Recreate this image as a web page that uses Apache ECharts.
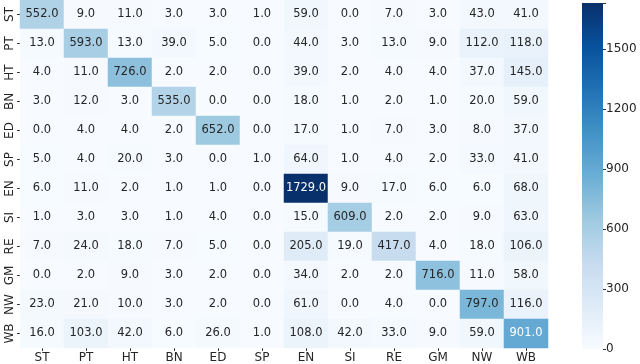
<!DOCTYPE html>
<html><head><meta charset="utf-8">
<script src="https://cdn.jsdelivr.net/npm/echarts@6/dist/echarts.min.js"></script>
<style>html,body{margin:0;padding:0;background:#fff}#c{width:640px;height:364px}</style>
</head><body><div id="c"></div>
<script>
const categories = ['ST','PT','HT','BN','ED','SP','EN','SI','RE','GM','NW','WB'];
const rowST = [552,9,11,3,3,1,59,0,7,3,43,41];
const rowPT = [13,593,13,39,5,0,44,3,13,9,112,118];
const rowHT = [4,11,726,2,2,0,39,2,4,4,37,145];
const rowBN = [3,12,3,535,0,0,18,1,2,1,20,59];
const rowED = [0,4,4,2,652,0,17,1,7,3,8,37];
const rowSP = [5,4,20,3,0,1,64,1,4,2,33,41];
const rowEN = [6,11,2,1,1,0,1729,9,17,6,6,68];
const rowSI = [1,3,3,1,4,0,15,609,2,2,9,63];
const rowRE = [7,24,18,7,5,0,205,19,417,4,18,106];
const rowGM = [0,2,9,3,2,0,34,2,2,716,11,58];
const rowNW = [23,21,10,3,2,0,61,0,4,0,797,116];
const rowWB = [16,103,42,6,26,1,108,42,33,9,59,901];
const colorbarTicks = [0,300,600,900,1200,1500];
const vmin = 0, vmax = 1729;

const rows = [rowST,rowPT,rowHT,rowBN,rowED,rowSP,rowEN,rowSI,rowRE,rowGM,rowNW,rowWB];
const blues = ['#f7fbff','#deebf7','#c6dbef','#9ecae1','#6baed6','#4292c6','#2171b5','#08519c','#08306b'];
const data = [];
rows.forEach((r, yi) => r.forEach((v, xi) => {
  data.push({value: [xi, yi, v], label: {color: v > 850 ? '#ffffff' : '#262626'}});
}));
const font = 'DejaVu Sans';
const chart = echarts.init(document.getElementById('c'));
chart.setOption({
  animation: false,
  grid: [
    {left: 20, right: 92, top: 0, bottom: 16},
    {left: 582, width: 21, top: 3, bottom: 15}
  ],
  xAxis: [
    {type: 'category', data: categories, gridIndex: 0, splitArea: {show: false},
     axisLine: {show: false}, axisTick: {show: true, length: 3, alignWithLabel: true, lineStyle: {color: '#333'}},
     axisLabel: {color: '#262626', fontFamily: font, fontSize: 12, margin: 4}},
    {type: 'category', data: ['c'], gridIndex: 1, show: false}
  ],
  yAxis: [
    {type: 'category', data: categories, inverse: true, gridIndex: 0,
     axisLine: {show: false}, axisTick: {show: true, length: 3, alignWithLabel: true, lineStyle: {color: '#333'}},
     axisLabel: {color: '#262626', fontFamily: font, fontSize: 12, rotate: 90, margin: 4}},
    {type: 'value', gridIndex: 1, min: vmin, max: vmax, interval: 300, position: 'right',
     splitLine: {show: false}, axisLine: {show: false},
     axisTick: {show: true, length: 3, lineStyle: {color: '#333'}},
     axisLabel: {color: '#262626', fontFamily: font, fontSize: 12, margin: 3,
       formatter: v => colorbarTicks.includes(v) ? String(v) : ''}}
  ],
  visualMap: {show: false, min: vmin, max: vmax, seriesIndex: 0, inRange: {color: blues}},
  series: [
    {type: 'heatmap', xAxisIndex: 0, yAxisIndex: 0, data: data,
     label: {show: true, fontFamily: font, fontSize: 11.5, formatter: p => p.value[2].toFixed(1)},
     itemStyle: {borderWidth: 0}, emphasis: {disabled: true}},
    {type: 'bar', xAxisIndex: 1, yAxisIndex: 1, data: [vmax], barWidth: '100%', silent: true,
     itemStyle: {color: new echarts.graphic.LinearGradient(0, 1, 0, 0,
       blues.map((c, i) => ({offset: i / (blues.length - 1), color: c})))}}
  ]
});
</script></body></html>
